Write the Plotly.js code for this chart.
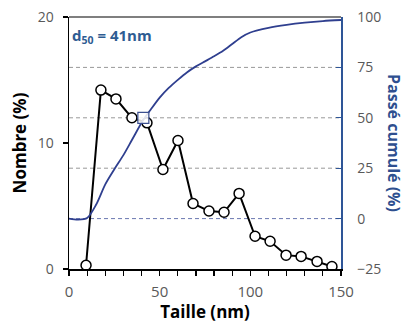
<!DOCTYPE html>
<html>
<head>
<meta charset="utf-8">
<script src="https://cdn.plot.ly/plotly-3.0.1.min.js"></script>
<style>html,body{margin:0;padding:0;background:#fff}#chart{width:407px;height:323px}</style>
</head>
<body>
<div id="chart"></div>
<script>
// Number distribution (%)
const sizeNm = [9.4, 17.6, 25.9, 34.7, 43, 51.8, 60.1, 68.4, 77.2, 85.5, 93.8, 102.6, 110.9, 119.7, 128, 136.8, 145];
const nombre = [0.3, 14.2, 13.5, 12.0, 11.6, 7.9, 10.2, 5.2, 4.6, 4.5, 6.0, 2.6, 2.2, 1.1, 1.0, 0.6, 0.2];
// Cumulative passing (%)
const cumX = [0, 5, 10, 15, 20, 25, 30, 35, 41, 45, 50, 55, 60, 65, 70, 75, 80, 85, 90, 95, 100, 110, 120, 130, 140, 150];
const cumY = [0, -0.5, 0.3, 7, 17, 24.5, 31.5, 39.5, 49, 54, 60, 64.8, 68.8, 72.5, 75.5, 78, 80.5, 83.2, 86.6, 90, 92.3, 94.6, 96.1, 97.2, 98, 98.5];
// d50 marker
const d50X = [41];
const d50Y = [50];
const d50Label = "d<sub>50</sub> = 41nm";

const blue = "#2f3f8f";
const axisBlue = "#2e5597";
const gray = "#595959";

const traces = [
  {x: cumX, y: cumY, yaxis: "y2", mode: "lines", line: {color: blue, width: 1.8, shape: "spline", smoothing: 0.8}, hoverinfo: "skip"},
  {x: sizeNm, y: nombre, mode: "lines+markers", line: {color: "#000", width: 2},
   marker: {symbol: "circle", size: 10, color: "#fff", line: {color: "#000", width: 1.5}}},
  {x: d50X, y: d50Y, yaxis: "y2", mode: "markers",
   marker: {symbol: "square", size: 11, color: "rgba(255,255,255,0.85)", line: {color: "#3b4f8f", width: 1.2}}}
];

const gridDash = "4px,3px";
const layout = {
  width: 407, height: 323,
  margin: {l: 69, r: 66, t: 17, b: 54},
  paper_bgcolor: "#fff", plot_bgcolor: "#fff",
  showlegend: false,
  font: {family: "Open Sans, sans-serif", color: gray},
  xaxis: {
    range: [0, 150], dtick: 50, showgrid: false, zeroline: false,
    showline: true, linecolor: "#000", linewidth: 1.5,
    ticks: "outside", ticklen: 5, tickcolor: "#000", tickwidth: 1.2,
    minor: {dtick: 10, ticks: "outside", ticklen: 5, tickcolor: "#000", tickwidth: 1.2},
    ticklabelstandoff: 3,
    tickfont: {size: 15, color: gray},
    title: {text: "<b>Taille (nm)</b>", font: {size: 17, color: "#000"}, standoff: 2}
  },
  yaxis: {
    range: [0, 20], tickvals: [0, 10, 20], showgrid: false, zeroline: false,
    showline: true, linecolor: "#000", linewidth: 1.5,
    ticks: "outside", ticklen: 5, tickcolor: "#000", tickwidth: 1.2,
    ticklabelstandoff: 6,
    tickfont: {size: 14, color: gray},
    title: {text: "<b>Nombre (%)</b>", font: {size: 17, color: "#000"}, standoff: 6}
  },
  yaxis2: {
    overlaying: "y", side: "right", range: [-25, 100], tickvals: [-25, 0, 25, 50, 75, 100],
    showgrid: false, zeroline: false,
    showline: true, linecolor: axisBlue, linewidth: 1.5,
    ticks: "inside", ticklen: 5, tickcolor: axisBlue,
    ticklabelstandoff: 12,
    tickfont: {size: 14, color: gray}
  },
  shapes: [
    {type: "line", xref: "paper", yref: "paper", x0: 0, x1: 1, y0: 1, y1: 1, line: {color: "#555", width: 1.5}},
    {type: "line", xref: "paper", yref: "y2", x0: 0, x1: 1, y0: 75, y1: 75, line: {color: "#999", width: 1, dash: gridDash}, layer: "below"},
    {type: "line", xref: "paper", yref: "y2", x0: 0, x1: 1, y0: 50, y1: 50, line: {color: "#999", width: 1, dash: gridDash}, layer: "below"},
    {type: "line", xref: "paper", yref: "y2", x0: 0, x1: 1, y0: 25, y1: 25, line: {color: "#999", width: 1, dash: gridDash}, layer: "below"},
    {type: "line", xref: "paper", yref: "y2", x0: 0, x1: 1, y0: 0, y1: 0, line: {color: "#6a78b0", width: 1, dash: gridDash}, layer: "below"}
  ],
  annotations: [
    {xref: "paper", yref: "paper", x: 0.005, y: 0.925, xanchor: "left", yanchor: "middle", showarrow: false,
     text: "<b>" + d50Label + "</b>", font: {size: 15, color: "#2e5c92"}},
    {xref: "paper", yref: "paper", x: 1, xshift: 53, y: 0.5, xanchor: "center", yanchor: "middle", showarrow: false,
     textangle: 90, text: "<b>Passé cumulé (%)</b>", font: {size: 16, color: "#2e4f8f"}}
  ]
};

Plotly.newPlot("chart", traces, layout, {displayModeBar: false, staticPlot: true});
</script>
</body>
</html>
